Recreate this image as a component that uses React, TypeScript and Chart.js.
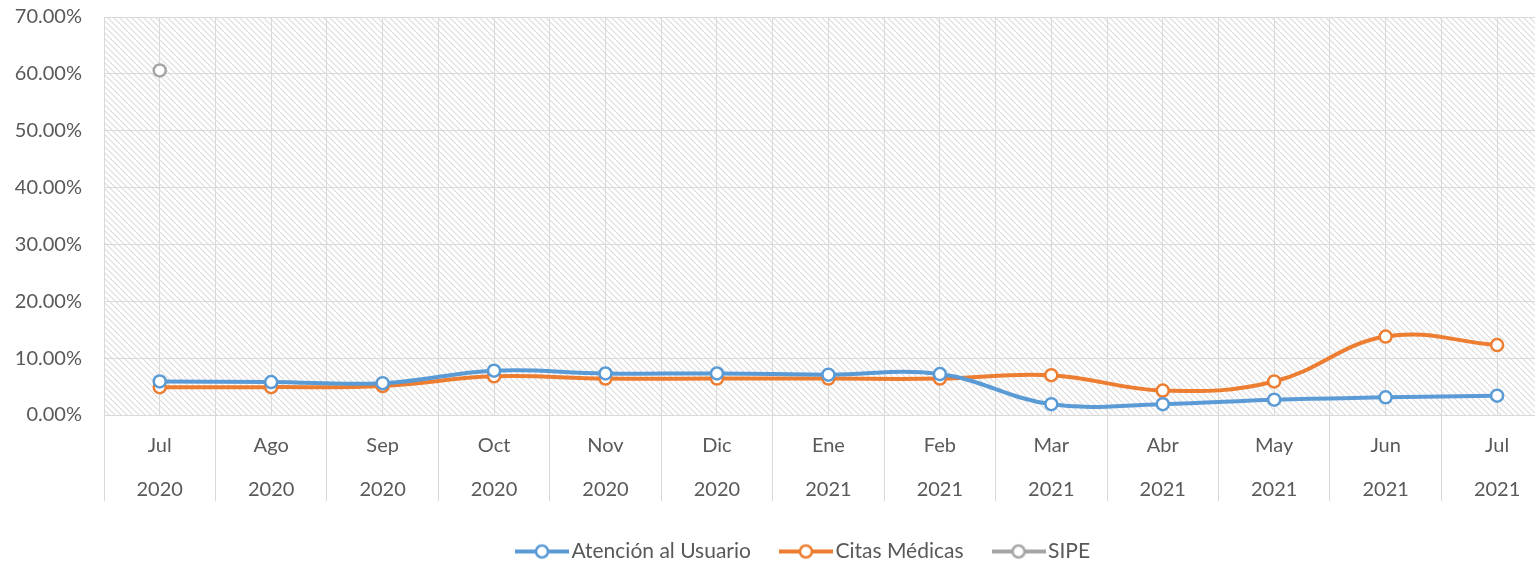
import React, { useEffect, useRef } from "react";
import { Chart, registerables } from "chart.js";

Chart.register(...registerables);

const months = ["Jul", "Ago", "Sep", "Oct", "Nov", "Dic", "Ene", "Feb", "Mar", "Abr", "May", "Jun", "Jul"];
const years = ["2020", "2020", "2020", "2020", "2020", "2020", "2021", "2021", "2021", "2021", "2021", "2021", "2021"];

const atencionUsuario = [5.9, 5.8, 5.6, 7.8, 7.3, 7.3, 7.1, 7.2, 1.9, 1.9, 2.7, 3.1, 3.4];
const citasMedicas = [4.9, 4.9, 5.1, 6.8, 6.4, 6.4, 6.4, 6.4, 7.0, 4.3, 5.9, 13.8, 12.3];
const sipe = [60.6, null, null, null, null, null, null, null, null, null, null, null, null];

const seriesNames = ["Atención al Usuario", "Citas Médicas", "SIPE"];
const seriesColors = ["#5b9bd5", "#ed7d31", "#a5a5a5"];

const yTicks = [0, 10, 20, 30, 40, 50, 60, 70];

const FONT = "Lato, 'Noto Sans', sans-serif";
const TEXT = "#595959";
const GRID = "#d9d9d9";
const LEGEND_PAD = 36;

function isInt(v: number) {
  return Math.abs(v - Math.round(v)) < 1e-6;
}

function makeMarker(color: string) {
  const c = document.createElement("canvas");
  c.width = 54;
  c.height = 18;
  const g = c.getContext("2d")!;
  g.strokeStyle = color;
  g.lineWidth = 4;
  g.beginPath();
  g.moveTo(0, 9);
  g.lineTo(54, 9);
  g.stroke();
  g.beginPath();
  g.arc(27, 9, 6, 0, Math.PI * 2);
  g.fillStyle = "#ffffff";
  g.fill();
  g.lineWidth = 2.5;
  g.stroke();
  return c;
}

function makeHatch(ctx: CanvasRenderingContext2D) {
  const c = document.createElement("canvas");
  c.width = 6;
  c.height = 6;
  const g = c.getContext("2d")!;
  g.fillStyle = "#ffffff";
  g.fillRect(0, 0, 6, 6);
  g.strokeStyle = "#dcdcdc";
  g.lineWidth = 1.1;
  g.beginPath();
  g.moveTo(-1, -1);
  g.lineTo(7, 7);
  g.moveTo(-1, 5);
  g.lineTo(1, 7);
  g.moveTo(5, -1);
  g.lineTo(7, 1);
  g.stroke();
  return ctx.createPattern(c, "repeat");
}

const hatchPlugin = {
  id: "hatchBg",
  afterLayout(chart: any) {
    const lg = chart.legend;
    if (lg) {
      lg.left += 39;
      lg.right += 39;
    }
  },
  beforeDraw(chart: any) {
    const { ctx, chartArea } = chart;
    if (!chartArea) return;
    ctx.save();
    ctx.fillStyle = "#ffffff";
    ctx.fillRect(chartArea.left, chartArea.top, chartArea.right - chartArea.left, chartArea.bottom - chartArea.top);
    const p = makeHatch(ctx);
    if (p) {
      ctx.fillStyle = p;
      ctx.fillRect(chartArea.left, chartArea.top, chartArea.right - chartArea.left, chartArea.bottom - chartArea.top);
    }
    ctx.restore();
  },
};

export default function App() {
  const ref = useRef<HTMLCanvasElement>(null);

  useEffect(() => {
    if (!ref.current) return;
    const seriesData = [atencionUsuario, citasMedicas, sipe];
    const markers = seriesColors.map((c) => makeMarker(c));
    const chart = new Chart(ref.current, {
      type: "line",
      data: {
        datasets: seriesData.map((arr, si) => ({
          label: seriesNames[si],
          data: arr.map((v, i) => ({ x: i, y: v })),
          borderColor: seriesColors[si],
          backgroundColor: seriesColors[si],
          borderWidth: 4,
          tension: 0.4,
          pointRadius: 6,
          pointBorderWidth: 2.5,
          pointBackgroundColor: "#ffffff",
          pointBorderColor: seriesColors[si],
          spanGaps: false,
          clip: false as any,
        })),
      },
      options: {
        responsive: false,
        animation: false,
        layout: { autoPadding: false, padding: { top: 17, right: 0, left: 0, bottom: -8 } },
        plugins: {
          tooltip: { enabled: false },
          legend: {
            position: "bottom",
            labels: {
              color: TEXT,
              font: { family: FONT, size: 21 },
              usePointStyle: true,
              pointStyleWidth: 38,
              padding: LEGEND_PAD,
              generateLabels: (ch: any) => {
                const items = (Chart.defaults.plugins.legend.labels as any).generateLabels(ch);
                items.forEach((it: any, i: number) => {
                  it.pointStyle = markers[i];
                });
                return items;
              },
            },
          },
        },
        scales: {
          x: {
            type: "linear",
            min: -0.5,
            max: 12.34,
            afterFit: (s: any) => {
              s.height = 126 - LEGEND_PAD;
              s.paddingLeft = 0;
              s.paddingRight = 0;
            },
            border: { display: false },
            grid: {
              color: GRID,
              lineWidth: 1,
              drawTicks: true,
              tickLength: 86,
              tickColor: (ctx: any) => (ctx.tick && isInt(ctx.tick.value) ? "rgba(0,0,0,0)" : GRID),
            },
            ticks: {
              stepSize: 0.5,
              autoSkip: false,
              maxRotation: 0,
              minRotation: 0,
              maxTicksLimit: 100,
              includeBounds: false,
              padding: -77,
              color: TEXT,
              font: { family: FONT, size: 20, lineHeight: 2.2 },
              callback: (v: any) => {
                const n = Number(v);
                if (!isInt(n)) return "";
                const i = Math.round(n);
                if (i < 0 || i >= months.length) return "";
                return [months[i], years[i]];
              },
            },
          },
          y: {
            min: 0,
            max: 70,
            afterFit: (s: any) => {
              s.width = 104;
              s.paddingTop = 0;
              s.paddingBottom = 0;
            },
            border: { display: false },
            grid: { color: GRID, lineWidth: 1, drawTicks: false },
            afterBuildTicks: (s: any) => {
              s.ticks = yTicks.map((v) => ({ value: v }));
            },
            ticks: {
              padding: 22,
              color: TEXT,
              font: { family: FONT, size: 20 },
              callback: (v: any) => Number(v).toFixed(2) + "%",
            },
          },
        },
      },
      plugins: [hatchPlugin],
    } as any);
    return () => chart.destroy();
  }, []);

  return (
    <div style={{ position: "fixed", left: 0, top: 0, width: 1535, height: 564, background: "#ffffff" }}>
      <canvas ref={ref} width={1535} height={564} style={{ display: "block" }} />
    </div>
  );
}
